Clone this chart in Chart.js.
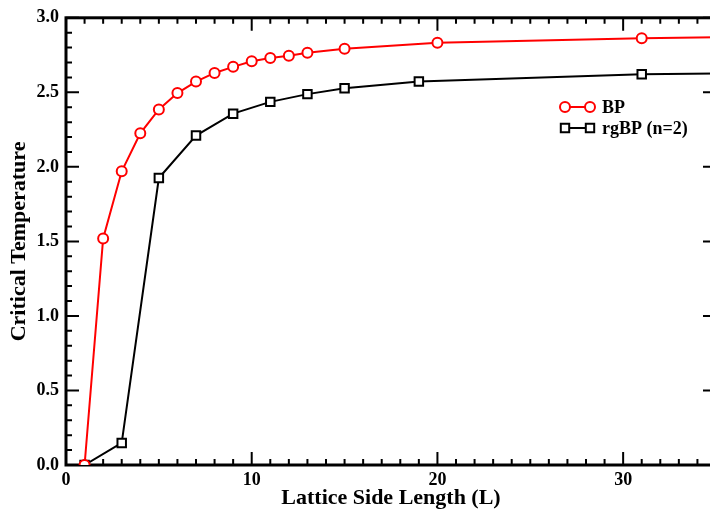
<!DOCTYPE html>
<html>
<head>
<meta charset="utf-8">
<script src="https://cdn.jsdelivr.net/npm/chart.js@4.4.1/dist/chart.umd.min.js"></script>
<style>
    html, body { margin: 0; padding: 0; background: #fff; overflow: hidden; }
    #wrap { width: 730px; height: 515px; }
</style>
</head>
<body>
<div id="wrap"><canvas id="canvas"></canvas></div>
<script>
// lattice side lengths and critical temperatures
var bpL = [1, 2, 3, 4, 5, 6, 7, 8, 9, 10, 11, 12, 13, 15, 20, 31, 41];
var bpT = [0.0, 1.52, 1.97, 2.225, 2.385, 2.495, 2.572, 2.63, 2.671, 2.708, 2.731, 2.746, 2.766, 2.793, 2.832, 2.863, 2.88];
var rgL = [1, 3, 5, 7, 9, 11, 13, 15, 19, 31, 41];
var rgT = [0.0, 0.148, 1.925, 2.21, 2.357, 2.436, 2.488, 2.527, 2.572, 2.621, 2.635];

var xMajor = [0, 10, 20, 30];
var yMajor = [0.0, 0.5, 1.0, 1.5, 2.0, 2.5, 3.0];
var xMinorStep = 1;
var yMinorStep = 0.1;

var serif = '"Liberation Serif", "Times New Roman", serif';

function toPoints(xs, ys) {
    var pts = [];
    for (let i = 0; i < xs.length; i++) {
        pts.push({ x: xs[i], y: ys[i] });
    }
    return pts;
}

// frame and inward ticks on all four sides
var framePlugin = {
    id: 'frame',
    beforeDatasetsDraw: function (chart) {
        var ctx = chart.ctx;
        var a = chart.chartArea;
        var sx = chart.scales.x;
        var sy = chart.scales.y;
        ctx.save();
        ctx.strokeStyle = '#000';
        ctx.lineWidth = 2;
        ctx.beginPath();
        for (let v = sx.min; v <= sx.max + 1e-9; v += xMinorStep) {
            var px = sx.getPixelForValue(v);
            var len = xMajor.indexOf(Math.round(v)) >= 0 ? 13 : 6;
            ctx.moveTo(px, a.bottom); ctx.lineTo(px, a.bottom - len);
            ctx.moveTo(px, a.top); ctx.lineTo(px, a.top + len);
        }
        for (let k = 0; k <= Math.round((sy.max - sy.min) / yMinorStep); k++) {
            var v = sy.min + k * yMinorStep;
            var py = sy.getPixelForValue(v);
            var len = (k % 5 === 0) ? 13 : 6;
            ctx.moveTo(a.left, py); ctx.lineTo(a.left + len, py);
            ctx.moveTo(a.right, py); ctx.lineTo(a.right - len, py);
        }
        ctx.stroke();
        ctx.lineWidth = 3;
        ctx.strokeRect(a.left, a.top, a.right - a.left, a.bottom - a.top);
        ctx.restore();
    }
};

// legend: marker - line - marker, then the label
var legendPlugin = {
    id: 'sampleLegend',
    afterDraw: function (chart) {
        var ctx = chart.ctx;
        var x0 = 565, x1 = 590, tx = 602;
        var rows = [107, 128];
        ctx.save();
        chart.data.datasets.forEach(function (ds, i) {
            var y = rows[i];
            ctx.strokeStyle = ds.borderColor;
            ctx.lineWidth = 2;
            ctx.beginPath();
            ctx.moveTo(x0, y); ctx.lineTo(x1, y);
            ctx.stroke();
            [x0, x1].forEach(function (x) {
                ctx.fillStyle = '#fff';
                ctx.beginPath();
                if (ds.pointStyle === 'rect') {
                    ctx.rect(x - 4.2, y - 4.2, 8.4, 8.4);
                } else {
                    ctx.arc(x, y, 5, 0, Math.PI * 2);
                }
                ctx.fill();
                ctx.stroke();
            });
            ctx.fillStyle = '#000';
            ctx.font = 'bold 18px ' + serif;
            ctx.textBaseline = 'middle';
            ctx.textAlign = 'left';
            ctx.fillText(ds.label, tx, y + 1);
        });
        ctx.restore();
    }
};

var ctx = document.getElementById('canvas').getContext('2d');
var myChart = new Chart(ctx, {
    type: 'line',
    data: {
        datasets: [{
            label: 'BP',
            data: toPoints(bpL, bpT),
            borderColor: '#ff0000',
            backgroundColor: '#fff',
            borderWidth: 2,
            pointStyle: 'circle',
            pointRadius: 5,
            pointBorderWidth: 2,
            pointBackgroundColor: '#fff',
            tension: 0
        }, {
            label: 'rgBP (n=2)',
            data: toPoints(rgL, rgT),
            borderColor: '#000',
            backgroundColor: '#fff',
            borderWidth: 2,
            pointStyle: 'rect',
            pointRadius: 6,
            pointBorderWidth: 2,
            pointBackgroundColor: '#fff',
            tension: 0
        }]
    },
    options: {
        responsive: true,
        maintainAspectRatio: false,
        animation: false,
        layout: { padding: { top: 12, right: 14, left: 0, bottom: 0 } },
        plugins: {
            legend: { display: false },
            tooltip: { enabled: false }
        },
        scales: {
            x: {
                type: 'linear',
                min: 0,
                max: 35,
                grid: { display: false, drawTicks: false },
                border: { display: false },
                ticks: {
                    stepSize: 10,
                    padding: 5,
                    color: '#000',
                    font: { family: serif, size: 18, weight: 'bold' }
                },
                afterBuildTicks: function (scale) {
                    scale.ticks = xMajor.map(function (v) { return { value: v }; });
                },
                afterFit: function (scale) { scale.height = 50; },
                title: {
                    display: true,
                    text: 'Lattice Side Length (L)',
                    color: '#000',
                    padding: { top: 0, bottom: 3 },
                    font: { family: serif, size: 22, weight: 'bold' }
                }
            },
            y: {
                min: 0,
                max: 3,
                grid: { display: false, drawTicks: false },
                border: { display: false },
                ticks: {
                    stepSize: 0.5,
                    padding: 7,
                    color: '#000',
                    font: { family: serif, size: 18, weight: 'bold' },
                    callback: function (v) { return Number(v).toFixed(1); }
                },
                afterBuildTicks: function (scale) {
                    scale.ticks = yMajor.map(function (v) { return { value: v }; });
                },
                afterFit: function (scale) { scale.width = 66; },
                title: {
                    display: true,
                    text: 'Critical Temperature',
                    color: '#000',
                    padding: { top: 6, bottom: 0 },
                    font: { family: serif, size: 22, weight: 'bold' }
                }
            }
        }
    },
    plugins: [framePlugin, legendPlugin]
});
</script>
</body>
</html>
